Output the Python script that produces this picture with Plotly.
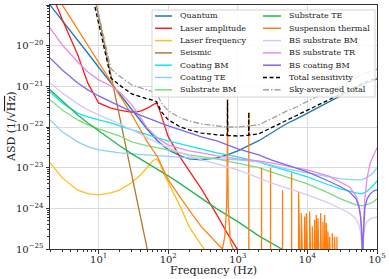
import plotly.graph_objects as go

# ---------------- data (Hz, 1/sqrt(Hz)) ----------------
q_f = [2, 3, 5, 7, 10, 15, 20, 30, 50, 70, 100, 150, 200, 300, 500, 700, 1000, 2000, 3000, 5000, 7000, 1e4, 2e4, 3e4, 5e4, 7e4, 1e5]
q_a = [1.0e-19, 4.2e-20, 1.35e-20, 6.5e-21, 2.95e-21, 1.23e-21, 6.6e-22, 2.7e-22, 8.8e-23, 4.6e-23, 2.74e-23, 1.95e-23, 1.65e-23, 1.55e-23, 1.74e-23, 2.06e-23, 2.6e-23, 4.6e-23, 7.1e-23, 1.2e-22, 1.58e-22, 2.2e-22, 4.1e-22, 5.8e-22, 8.9e-22, 1.2e-21, 1.52e-21]

la_f = [2, 3, 5, 7, 10, 15, 20, 30, 40, 50, 60, 68, 75, 85, 100, 150, 200, 300, 500, 700, 1000, 1200]
la_a = [2.4e-19, 4.4e-20, 6.0e-21, 1.2e-21, 3.9e-22, 2.9e-22, 2.6e-22, 2.3e-22, 2.45e-22, 2.9e-22, 3.5e-22, 3.9e-22, 2.6e-22, 1.34e-22, 5.8e-23, 1.74e-23, 8.3e-24, 3.0e-24, 6.9e-25, 2.5e-25, 9.5e-26, 6.3e-26]

lf_f = [2, 3, 5, 7, 10, 15, 20, 30, 40, 50, 60, 68, 75, 85, 100, 150, 200, 300, 350, 400]
lf_a = [1.32e-23, 5.6e-24, 2.8e-24, 2.3e-24, 2.14e-24, 2.4e-24, 2.8e-24, 4.3e-24, 6.6e-24, 1.05e-23, 1.48e-23, 1.66e-23, 1.32e-23, 7.4e-24, 4.3e-24, 1.1e-24, 3.5e-25, 1.26e-25, 8.7e-26, 6.0e-26]

se_f = [8, 10, 15, 20, 30, 40, 50, 60]
se_a = [3.3e-19, 5.4e-20, 1.95e-21, 1.8e-22, 6.6e-24, 6.2e-25, 1.0e-25, 2.2e-26]

cbm_f = [2, 3, 5, 7, 10, 15, 20, 30, 50, 70, 100, 150, 200, 300, 500, 1000, 2000, 3000, 5000, 1e4, 2e4, 3e4, 5e4, 6e4, 7e4, 8.5e4, 1e5]
cbm_a = [7.3e-22, 3.9e-22, 2.2e-22, 1.77e-22, 1.49e-22, 1.26e-22, 1.07e-22, 8.5e-23, 6.4e-23, 5.4e-23, 4.55e-23, 3.85e-23, 3.45e-23, 2.9e-23, 2.3e-23, 1.85e-23, 1.39e-23, 1.1e-23, 8.3e-24, 5.9e-24, 3.8e-24, 3.0e-24, 2.4e-24, 2.27e-24, 2.55e-24, 3.4e-24, 4.7e-24]

cte_f = [2, 3, 5, 7, 10, 15, 20, 30, 50, 100, 200, 500, 1000, 2000, 3000, 5000, 1e4, 2e4, 3e4, 5e4, 6e4, 7e4, 8.5e4, 1e5]
cte_a = [1.49e-22, 7.6e-23, 4.3e-23, 3.3e-23, 2.74e-23, 2.44e-23, 2.3e-23, 2.18e-23, 2.06e-23, 1.85e-23, 1.74e-23, 1.65e-23, 1.55e-23, 1.39e-23, 1.17e-23, 9.35e-24, 7.4e-24, 5.9e-24, 5.3e-24, 5.0e-24, 5.0e-24, 5.6e-24, 7.0e-24, 1.0e-23]

sbm_f = [2, 3, 5, 7, 10, 15, 20, 30, 50, 100, 200, 500, 1000, 2000, 3000, 5000, 1e4, 2e4, 3e4, 5e4, 6e4, 7e4, 8.5e4, 1e5]
sbm_a = [4.7e-22, 2.63e-22, 1.49e-22, 1.13e-22, 9.0e-23, 7.2e-23, 6.0e-23, 4.3e-23, 3.45e-23, 2.74e-23, 2.06e-23, 1.65e-23, 1.31e-23, 1.0e-23, 7.9e-24, 5.9e-24, 4.0e-24, 2.4e-24, 1.71e-24, 1.22e-24, 1.15e-24, 1.22e-24, 1.37e-24, 1.71e-24]

ste_f = [2, 3, 5, 7, 10, 15, 20, 30, 50, 70, 100, 150, 200, 300, 500, 1000, 2000, 3000, 5000, 7000]
ste_a = [8.2e-22, 4.4e-22, 1.98e-22, 1.26e-22, 8.0e-23, 4.8e-23, 3.45e-23, 2.18e-23, 1.31e-23, 9.35e-24, 6.3e-24, 4.0e-24, 2.85e-24, 1.8e-24, 9.7e-25, 4.7e-25, 2.1e-25, 1.42e-25, 8.5e-26, 6.1e-26]

# suspension thermal: broadband part (incl. first violin resonance) + violin harmonics
st_f = [2, 3, 5, 7, 10, 15, 20, 30, 50, 70, 100, 150, 200, 300, 500, 600, 650, 690, 705, 711, 717, 730, 780, 1000]
st_a = [3.0e-19, 1.0e-19, 2.5e-20, 1.0e-20, 3.8e-21, 1.29e-21, 5.8e-22, 2.0e-22, 4.3e-23, 1.86e-23, 5.0e-24, 1.8e-24, 9.1e-25, 3.5e-25, 1.4e-25, 1.0e-25, 2.0e-25, 1.1e-24, 1.55e-23, 4.7e-22, 1.55e-23, 1.1e-24, 1.5e-25, 5.0e-26]
violin_f = [1439, 2193, 2953, 4393, 5927, 7470, 8170, 9120, 9640, 10760, 11780, 12700, 13430, 14160, 15490, 16710, 17670, 18690, 19720, 20840, 22800, 24600, 26550]
violin_a = [2.3e-22, 1.0e-23, 1.0e-23, 2.8e-24, 7.4e-24, 2.6e-24, 7.6e-25, 6.3e-25, 7.6e-25, 8.3e-25, 3.6e-25, 5.2e-25, 6.9e-25, 5.7e-25, 7.6e-25, 4.7e-25, 6.9e-25, 4.4e-25, 2.7e-25, 2.0e-25, 2.45e-25, 2.0e-25, 2.0e-25]
violin_floor = 1e-27

bsbm_f = [2, 3, 5, 7, 10, 15, 20, 30, 50, 70, 100, 150, 200, 300, 500, 1000, 2000, 3000, 5000, 1e4, 2e4, 3e4, 4e4, 5e4, 5.5e4, 5.8e4, 6.0e4, 6.15e4, 6.22e4, 6.3e4, 6.45e4, 6.7e4, 7.2e4, 8.0e4, 9.0e4, 1e5]
bsbm_a = [1.21e-21, 6.9e-22, 3.7e-22, 2.63e-22, 1.98e-22, 1.49e-22, 1.19e-22, 8.5e-23, 5.4e-23, 4.06e-23, 3.1e-23, 2.3e-23, 1.95e-23, 1.55e-23, 1.24e-23, 8.8e-24, 5.6e-24, 4.2e-24, 3.2e-24, 2.15e-24, 1.37e-24, 9.7e-25, 7.7e-25, 5.5e-25, 3.9e-25, 2.65e-25, 1.7e-25, 9.5e-26, 4.1e-26, 1.07e-25, 2.1e-25, 3.5e-25, 4.7e-25, 5.5e-25, 5.8e-25, 6.2e-25]

bstr_f = [2, 3, 5, 7, 10, 15, 20, 30, 50, 70, 100, 150, 200, 300, 500, 1000, 2000, 3000, 5000, 1e4, 2e4, 3e4, 4e4, 5e4, 5.5e4, 5.8e4, 6.0e4, 6.15e4, 6.22e4, 6.3e4, 6.45e4, 6.7e4, 7.2e4, 8.0e4, 9.0e4, 1e5]
bstr_a = [2.72e-20, 1.04e-20, 3.98e-21, 2.26e-21, 1.44e-21, 1.02e-21, 7.3e-22, 3.5e-22, 9.5e-23, 5.4e-23, 3.6e-23, 2.9e-23, 2.6e-23, 2.3e-23, 1.95e-23, 1.65e-23, 1.47e-23, 1.31e-23, 1.1e-23, 8.8e-24, 6.3e-24, 4.5e-24, 3.4e-24, 2.0e-24, 1.22e-24, 6.9e-25, 3.3e-25, 1.27e-25, 4.1e-26, 1.7e-25, 5.8e-25, 1.8e-24, 5.6e-24, 1.31e-23, 2.18e-23, 3.1e-23]

bscbm_f = [2, 3, 5, 7, 10, 15, 20, 30, 50, 70, 100, 150, 200, 300, 500, 1000, 2000, 3000, 5000, 1e4, 2e4, 3e4, 4e4, 5e4, 5.5e4, 5.8e4, 6.0e4, 6.15e4, 6.22e4, 6.3e4, 6.45e4, 6.7e4, 7.2e4, 8.0e4, 9.0e4, 1e5]
bscbm_a = [5.0e-21, 2.53e-21, 1.21e-21, 8.2e-22, 5.8e-22, 4.1e-22, 3.3e-22, 2.35e-22, 1.67e-22, 1.33e-22, 1.07e-22, 8.5e-23, 7.2e-23, 5.7e-23, 4.55e-23, 2.9e-23, 2.06e-23, 1.55e-23, 1.17e-23, 7.9e-24, 4.7e-24, 3.4e-24, 2.55e-24, 1.71e-24, 1.09e-24, 6.2e-25, 3.1e-25, 1.27e-25, 4.1e-26, 1.7e-25, 4.7e-25, 1.03e-24, 1.71e-24, 2.27e-24, 2.69e-24, 2.85e-24]

tot_f = [7, 10, 12, 15, 20, 30, 50, 60, 68, 80, 100, 150, 200, 300, 500, 700, 705, 711, 717, 1000, 1430, 1439, 1448, 2000, 3000, 5000, 7000, 1e4, 2e4, 3e4, 5e4, 7e4, 1e5]
tot_a = [5.4e-19, 3.3e-20, 7.9e-21, 1.6e-21, 1.07e-21, 6.5e-22, 4.9e-22, 4.6e-22, 4.2e-22, 2.35e-22, 1.5e-22, 1.0e-22, 8.5e-23, 7.1e-23, 6.4e-23, 6.0e-23, 6.2e-23, 4.7e-22, 6.2e-23, 6.0e-23, 6.3e-23, 2.3e-22, 6.3e-23, 6.8e-23, 9.5e-23, 1.48e-22, 1.87e-22, 2.6e-22, 4.6e-22, 6.2e-22, 9.8e-22, 1.3e-21, 1.6e-21]

sky_f = [7, 10, 12, 15, 20, 30, 50, 60, 68, 80, 100, 150, 200, 300, 500, 700, 1000, 2000, 3000, 5000, 7000, 1e4, 2e4, 3e4, 5e4, 7e4, 1e5]
sky_a = [9.0e-19, 5.5e-20, 1.3e-20, 2.7e-21, 1.78e-21, 1.08e-21, 8.1e-22, 7.6e-22, 7.0e-22, 3.9e-22, 2.5e-22, 1.66e-22, 1.41e-22, 1.18e-22, 1.06e-22, 1.0e-22, 1.0e-22, 1.13e-22, 1.58e-22, 2.45e-22, 3.1e-22, 4.3e-22, 7.6e-22, 1.03e-21, 1.63e-21, 2.15e-21, 2.65e-21]

x_ticks = [10, 100, 1000, 1e4, 1e5]
x_ticktext = ["10<sup>1</sup>", "10<sup>2</sup>", "10<sup>3</sup>", "10<sup>4</sup>", "10<sup>5</sup>"]
y_ticks = [1e-25, 1e-24, 1e-23, 1e-22, 1e-21, 1e-20, 1e-19]
y_ticktext = ["10<sup>−25</sup>", "10<sup>−24</sup>", "10<sup>−23</sup>", "10<sup>−22</sup>", "10<sup>−21</sup>", "10<sup>−20</sup>", "10<sup>−19</sup>"]

# ---- assemble suspension thermal with violin lines ----
pts = list(zip(st_f, st_a))
for f, a in zip(violin_f, violin_a):
    pts += [(f * 0.997, violin_floor), (f, a), (f * 1.003, violin_floor)]
pts.sort()
st_x = [p[0] for p in pts]
st_y = [p[1] for p in pts]

FONT = "DejaVu Serif"
W = 1.3

series = [
    ("Quantum", q_f, q_a, "#1f77b4", None),
    ("Laser amplitude", la_f, la_a, "#ff1a1a", None),
    ("Laser frequency", lf_f, lf_a, "#ffbf1f", None),
    ("Seismic", se_f, se_a, "#b07a30", None),
    ("Coating BM", cbm_f, cbm_a, "#14e6f0", None),
    ("Coating TE", cte_f, cte_a, "#8ccff8", None),
    ("Substrate BM", sbm_f, sbm_a, "#7ddc7d", None),
    ("Substrate TE", ste_f, ste_a, "#1fba4a", None),
    ("Suspension thermal", st_x, st_y, "#ff7f0e", None),
    ("BS substrate BM", bsbm_f, bsbm_a, "#dcc6f6", None),
    ("BS substrate TR", bstr_f, bstr_a, "#ea8ae8", None),
    ("BS coating BM", bscbm_f, bscbm_a, "#7b68ee", None),
    ("Total sensitivity", tot_f, tot_a, "black", "4px,2.5px"),
    ("Sky-averaged total", sky_f, sky_a, "#a0a0a0", "6px,2px,1.5px,2px"),
]

fig = go.Figure()
for name, x, y, c, dash in series:
    line = dict(color=c, width=W)
    if dash:
        line["dash"] = dash
    fig.add_trace(go.Scatter(x=x, y=y, mode="lines", name=name, line=line,
                             showlegend=False, hoverinfo="skip"))

minor_x = [m * 10 ** e for e in range(0, 5) for m in range(2, 10) if 2 <= m * 10 ** e <= 1e5]
minor_y = [m * 10.0 ** e for e in range(-25, -19) for m in range(2, 10)]

axis_common = dict(type="log", showline=True, linecolor="#333", linewidth=1, mirror=True,
                   ticks="outside", ticklen=3.5, tickwidth=1, tickcolor="#333", automargin=False,
                   showgrid=True, gridcolor="#dcdcdc", gridwidth=1, zeroline=False,
                   tickfont=dict(family=FONT, size=10, color="#222"))

fig.update_xaxes(range=[0.301, 5], tickvals=x_ticks, ticktext=x_ticktext, ticklabelstandoff=-3,
                 minor=dict(tickvals=minor_x, ticks="outside", ticklen=2, tickcolor="#333", showgrid=False),
                 **axis_common)
fig.update_yaxes(range=[-25, -19], tickvals=y_ticks, ticktext=y_ticktext,
                 minor=dict(tickvals=minor_y, ticks="outside", ticklen=2, tickcolor="#333", showgrid=False),
                 **axis_common)

# ---- layout geometry (paper coords of the plot area) ----
L, R, T, B, WID, HEI = 50, 12, 5, 30, 389, 279
PW, PH = WID - L - R, HEI - T - B

def px(x):
    return (x - L) / PW

def py(y):
    return (HEI - B - y) / PH

annotations = [
    dict(text="Frequency (Hz)", x=0.5, y=py(270), xref="paper", yref="paper", showarrow=False,
         xanchor="center", yanchor="middle", font=dict(family=FONT, size=11, color="#222")),
    dict(text="ASD (1/√<span style='text-decoration:overline'>Hz</span>)", x=px(11), y=py(127),
         xref="paper", yref="paper", showarrow=False, textangle=-90,
         xanchor="center", yanchor="middle", font=dict(family=FONT, size=11, color="#222")),
]
shapes = [dict(type="rect", xref="paper", yref="paper", x0=px(152), x1=px(375), y0=py(97), y1=py(10),
               line=dict(color="#d4d4d4", width=1), fillcolor="rgba(255,255,255,0.85)", layer="above")]

# ---- legend (two columns) ----
row_y = [16, 28.3, 40.6, 52.9, 65.2, 77.5, 89.8]
cols = [(155, 172, 178), (263, 281, 287)]
for i, (name, x, y, c, dash) in enumerate(series):
    col = 0 if i < 7 else 1
    r = i % 7
    x0, x1, xt = cols[col]
    ln = dict(color=c, width=1.5)
    if dash:
        ln["dash"] = dash
    shapes.append(dict(type="line", xref="paper", yref="paper", x0=px(x0), x1=px(x1),
                       y0=py(row_y[r]), y1=py(row_y[r]), line=ln, layer="above"))
    annotations.append(dict(text=name, x=px(xt), y=py(row_y[r]), xref="paper", yref="paper",
                            showarrow=False, xanchor="left", yanchor="middle",
                            font=dict(family=FONT, size=8, color="#222")))

fig.update_layout(
    width=WID, height=HEI,
    margin=dict(l=L, r=R, t=T, b=B),
    paper_bgcolor="white", plot_bgcolor="white",
    showlegend=False,
    shapes=shapes, annotations=annotations,
)

fig.write_html("out.html", config={"displayModeBar": False},
               post_script="document.body.style.margin='0px';")
